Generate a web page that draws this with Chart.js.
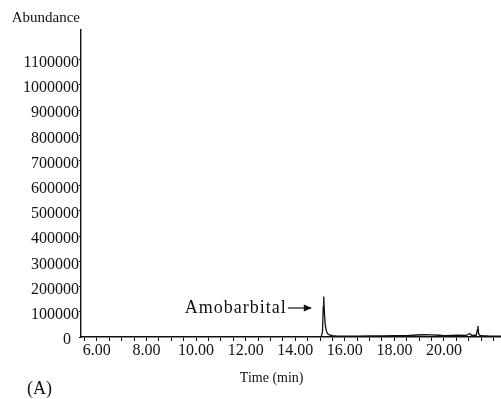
<!DOCTYPE html>
<html>
<head>
<meta charset="utf-8">
<script src="https://cdn.jsdelivr.net/npm/chart.js@4/dist/chart.umd.min.js"></script>
<style>
  html, body { margin: 0; padding: 0; background: #fff; }
  canvas { display: block; }
</style>
</head>
<body>
<canvas id="tic" width="501" height="399"></canvas>
<script>
// retention time (min) and abundance
const times = [5.36, 6.0, 7.0, 8.0, 9.0, 10.0, 11.0, 12.0, 13.0, 14.0, 14.8, 15.05, 15.1, 15.13, 15.15, 15.18, 15.21, 15.25, 15.3, 15.38, 15.5, 15.7, 16.0, 16.5, 17.0, 17.5, 18.0, 18.5, 18.9, 19.2, 19.5, 19.8, 20.0, 20.3, 20.6, 20.9, 21.05, 21.12, 21.2, 21.3, 21.35, 21.37, 21.4, 21.45, 21.55, 21.8, 22.1, 22.3];
const abundance = [800, 800, 800, 800, 800, 800, 800, 800, 900, 900, 1000, 1500, 20000, 120000, 161000, 90000, 50000, 26000, 14000, 8000, 5000, 3500, 3000, 3500, 4500, 4000, 5000, 5500, 8000, 9000, 8500, 7000, 5500, 6000, 7000, 6500, 14000, 5000, 7000, 6000, 30000, 44000, 12000, 6000, 5000, 4000, 3500, 3000];

const xLabels = ["6.00", "8.00", "10.00", "12.00", "14.00", "16.00", "18.00", "20.00"];
const yLabels = [0, 100000, 200000, 300000, 400000, 500000, 600000, 700000, 800000, 900000, 1000000, 1100000];

const serif = "'Liberation Serif', 'Times New Roman', serif";

const textPlugin = {
  id: "textPlugin",
  afterDraw(chart) {
    const ctx = chart.ctx;
    const xs = chart.scales.x;
    const ys = chart.scales.y;
    const area = chart.chartArea;
    ctx.save();
    ctx.fillStyle = "#111";
    ctx.strokeStyle = "#111";
    ctx.textBaseline = "middle";

    // "Abundance" above the y axis
    ctx.font = "15px " + serif;
    ctx.textAlign = "right";
    ctx.fillText("Abundance", area.left - 1, area.top - 12);

    // x axis title
    ctx.font = "14px " + serif;
    ctx.textAlign = "center";
    ctx.fillText("Time (min)", xs.getPixelForValue(13.05), area.bottom + 41);

    // panel letter
    ctx.font = "18px " + serif;
    ctx.textAlign = "left";
    ctx.fillText("(A)", 27, area.bottom + 52);

    // peak label with arrow
    const tipX = xs.getPixelForValue(14.63);
    const tailX = xs.getPixelForValue(13.7);
    const ay = ys.getPixelForValue(115000);
    ctx.font = "18px " + serif;
    ctx.letterSpacing = "1px";
    ctx.textAlign = "right";
    ctx.fillText("Amobarbital", tailX - 1, ay);
    ctx.letterSpacing = "0px";
    ctx.lineWidth = 1.2;
    ctx.beginPath();
    ctx.moveTo(tailX, ay);
    ctx.lineTo(tipX, ay);
    ctx.stroke();
    ctx.beginPath();
    ctx.moveTo(tipX + 1, ay);
    ctx.lineTo(tipX - 7, ay - 3.5);
    ctx.lineTo(tipX - 7, ay + 3.5);
    ctx.closePath();
    ctx.fill();
    ctx.restore();
  }
};

new Chart(document.getElementById("tic"), {
  type: "line",
  data: {
    datasets: [{
      data: times.map((t, i) => ({ x: t, y: abundance[i] })),
      borderColor: "#111",
      borderWidth: 1.3,
      pointRadius: 0,
      tension: 0,
      fill: false,
    }],
  },
  options: {
    responsive: false,
    animation: false,
    layout: { padding: { top: 30, left: 0, right: 0, bottom: 0 } },
    plugins: { legend: { display: false }, tooltip: { enabled: false } },
    scales: {
      x: {
        type: "linear",
        min: 5.36,
        max: 22.3,
        afterBuildTicks: (s) => {
          const t = [];
          for (let v = 5.5; v <= 22.01; v += 0.5) t.push({ value: v });
          s.ticks = t;
        },
        afterFit: (s) => { s.height = 62; },
        ticks: {
          autoSkip: false,
          maxRotation: 0,
          padding: 0,
          color: "#111",
          font: { family: serif, size: 16 },
          callback: (v) => {
            const lab = Number(v).toFixed(2);
            return xLabels.includes(lab) ? lab : "";
          },
        },
        grid: { display: true, drawOnChartArea: false, drawTicks: true, tickLength: 4, color: "#111" },
        border: { display: true, color: "#111", width: 1.4 },
      },
      y: {
        min: 0,
        max: 1218000,
        afterBuildTicks: (s) => { s.ticks = yLabels.map((v) => ({ value: v })); },
        afterFit: (s) => { s.width = 81; },
        ticks: {
          padding: 0,
          labelOffset: 3,
          color: "#111",
          font: { family: serif, size: 16 },
          // the zero label sits a little further from the axis in the original
          callback: (v) => (v === 0 ? "0  " : String(v)),
        },
        grid: { display: true, drawOnChartArea: false, drawTicks: true, tickLength: 2, color: "#111" },
        border: { display: true, color: "#111", width: 1.4 },
      },
    },
  },
  plugins: [textPlugin],
});
</script>
</body>
</html>
